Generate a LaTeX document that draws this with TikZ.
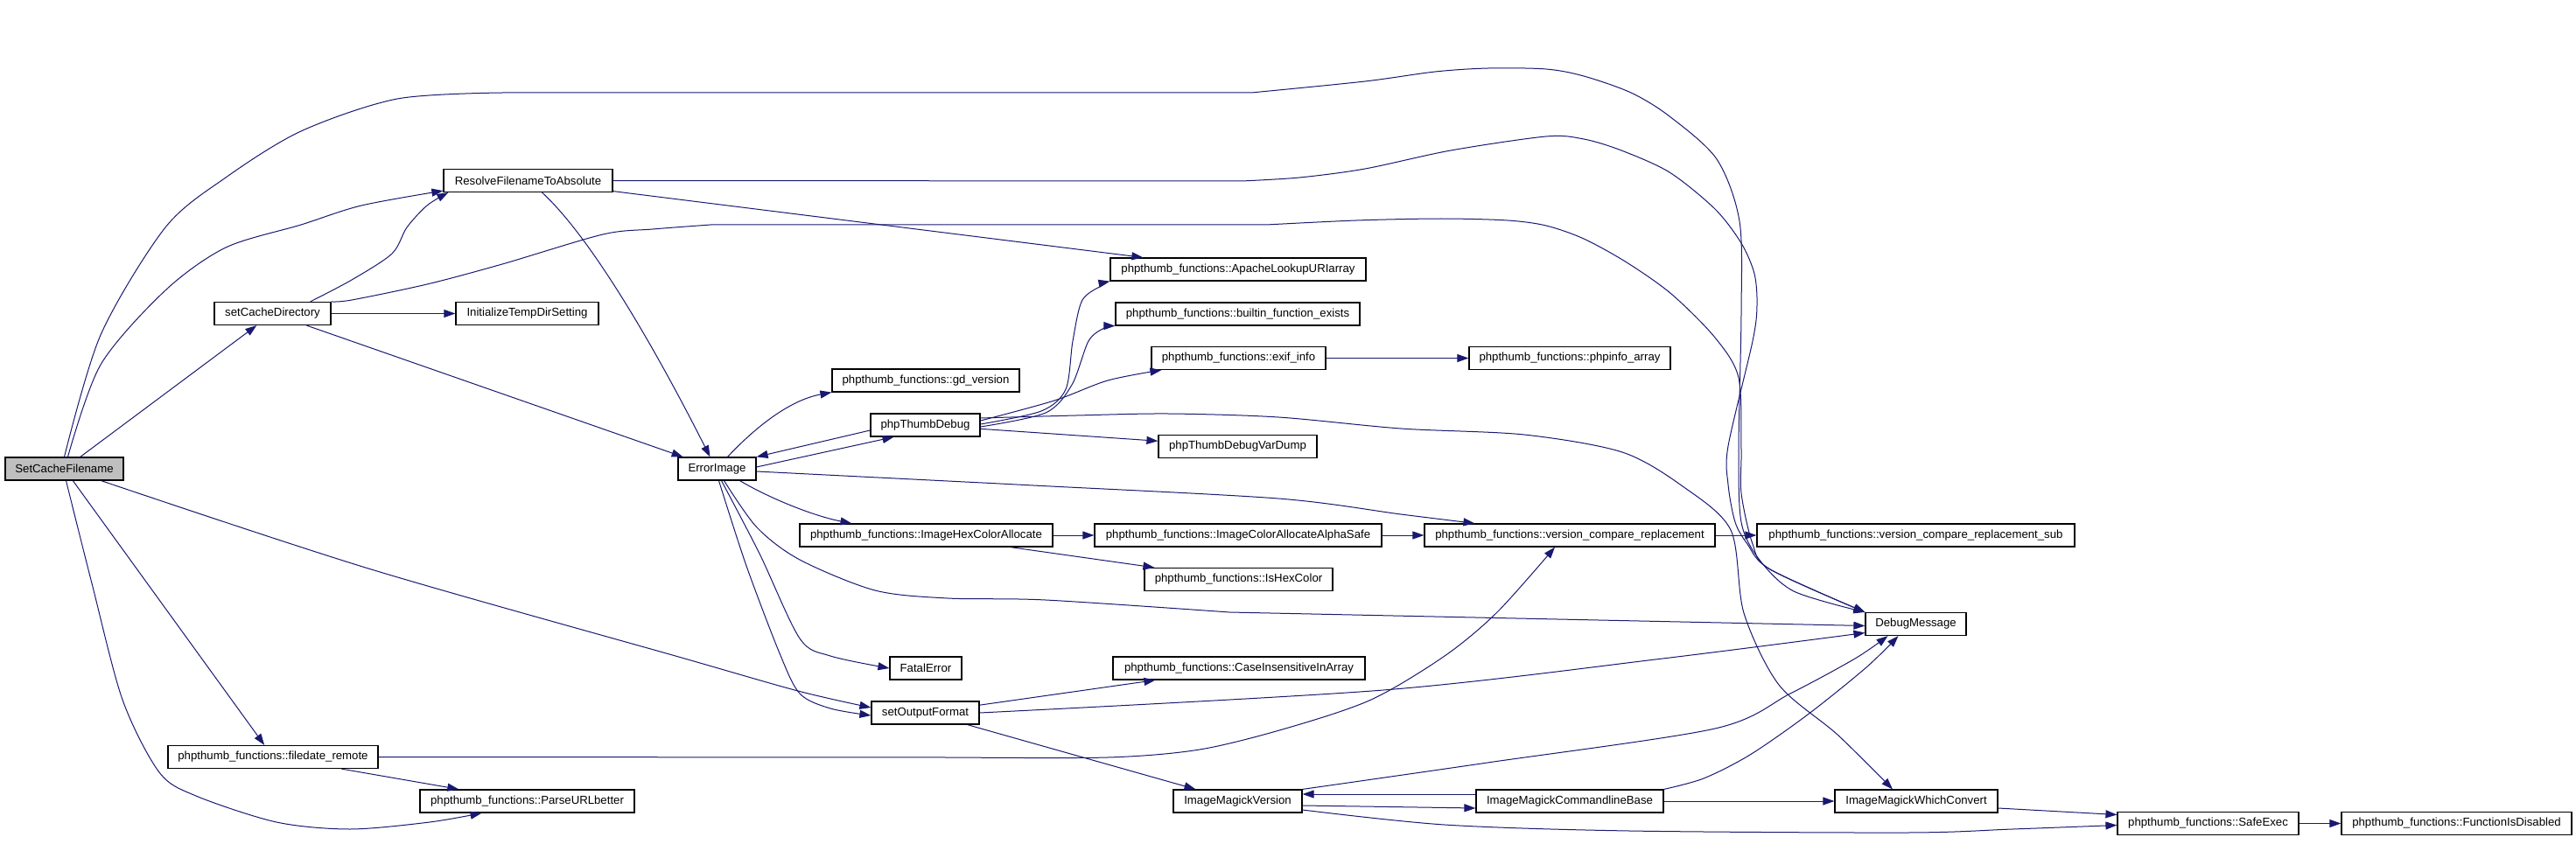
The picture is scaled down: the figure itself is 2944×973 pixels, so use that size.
\documentclass[tikz,border=0pt]{standalone}
\usepackage{fontspec}
\setmainfont{Liberation Sans}
\usetikzlibrary{arrows.meta}
\definecolor{edgeblue}{HTML}{191970}
\begin{document}
\begin{tikzpicture}[x=0.5pt,y=-0.5pt,
fn/.style={draw=black,line width=0.6pt,minimum height=13pt,inner xsep=2pt,inner ysep=0pt,font=\fontsize{6.6pt}{8pt}\selectfont},
edge/.style={draw=edgeblue,line width=0.5pt,-{Triangle[length=6.5pt,width=4.5pt]}}]
\useasboundingbox(0,0)rectangle(2944,973);
\node[fn,fill=black!25,minimum width=67.5pt](scf)at(73.5,536){SetCacheFilename};
\foreach \n/\x/\y/\w/\t in {rfa/603.5/206.5/193/ResolveFilenameToAbsolute,scd/311.5/358.5/133/setCacheDirectory,
itds/602.5/358.5/163/InitializeTempDirSetting,err/819.5/536/89/ErrorImage,fdr/312/865.5/240/phpthumb\_functions::filedate\_remote,
purl/602.5/916/245/phpthumb\_functions::ParseURLbetter,gdv/1058/435/214/phpthumb\_functions::gd\_version,dbg/1057.5/486/125/phpThumbDebug,
ihca/1058.5/612/289/phpthumb\_functions::ImageHexColorAllocate,fatal/1058/764/82/FatalError,sof/1057.5/815/123/setOutputFormat,
alu/1415/308/292/phpthumb\_functions::ApacheLookupURIarray,bfe/1414.5/359/279/phpthumb\_functions::builtin\_function\_exists,
exif/1415.5/409.5/199/phpthumb\_functions::exif\_info,vdump/1414.5/510.5/181/phpThumbDebugVarDump,
icaa/1415/612/328/phpthumb\_functions::ImageColorAllocateAlphaSafe,ishex/1415.5/662.5/215/phpthumb\_functions::IsHexColor,
ciia/1416/764/288/phpthumb\_functions::CaseInsensitiveInArray,imv/1414.5/916/147/ImageMagickVersion,
pia/1794/409.5/230/phpthumb\_functions::phpinfo\_array,vcr/1794/612/332/phpthumb\_functions::version\_compare\_replacement,
imcb/1794/916/214/ImageMagickCommandlineBase,vcrs/2189.5/612/363/phpthumb\_functions::version\_compare\_replacement\_sub,
dmsg/2189.5/713.5/115/DebugMessage,imwc/2190/916/186/ImageMagickWhichConvert,sexec/2523.5/941.5/207/phpthumb\_functions::SafeExec,
fid/2807.5/941.5/263/phpthumb\_functions::FunctionIsDisabled}
\node[fn,minimum width=\w*0.5pt](\n)at(\x,\y){\t};
\foreach \a/\b in {scf/scd,scf/fdr,rfa/alu,scd/itds,scd/err,fdr/purl,dbg/vdump,ihca/icaa,ihca/ishex,icaa/vcr,vcr/vcrs,
exif/pia,sof/ciia,sof/imv,imcb/imwc,sexec/fid}
\draw[edge](\a)--(\b);
\draw[edge]plot[smooth]coordinates{([xshift=2pt]scf.north)(115,417)(189,332)(258,283)(344,257)(413,235)([yshift=1pt]rfa.south west)};
\draw[edge]plot[smooth]coordinates{(scf.north)(115,383)(189,260)(258,203)(344,150)(454,113)(574,106)}--plot[smooth]coordinates{(1430,106)
(1560,93)(1640,82)(1701,78)(1767,79)(1810,87)(1864,106)(1908,133)(1962,182)(1988,253)(1990,357)(1987,515)(1990,597)(2010,639)(2050,676)(dmsg.north west)};
\draw[edge](rfa.east)--plot[smooth]coordinates{(1419,207)(1485,203)(1560,193)(1658,172)(1767,156)(1810,159)(1853,172)(1908,197)
(1960,239)(1990,278)(2005,313)(2008,349)(2003,390)(1975,510)(1975,554)(1983,597)(1997,622)(2023,651)(dmsg.north west)};
\draw[edge]plot[smooth]coordinates{(scd.north east)(402,343)(488,325)(574,302)(689,268)(746,262)(812,257)}--plot[smooth]coordinates{(1447,257)
(1550,252)(1647,250)(1723,252)(1767,258)(1810,273)(1859,300)(1910,336)(1960,386)(1987,432)(1990,515)(1990,564)(2003,622)(2023,651)(dmsg.north west)};
\draw[edge]plot[smooth]coordinates{([xshift=-12pt]scd.north east)(402,320)(448,290)(465,260)(488,235)([xshift=3pt]rfa.south west)};
\draw[edge]([xshift=8pt]rfa.south)..controls(690,285)and(780,460)..([xshift=-4pt]err.north);
\draw[edge]([xshift=6pt]err.north)..controls(860,492)and(900,458)..(gdv.south west);
\draw[edge]([yshift=-3pt]dbg.west)--(err.north east);
\draw[edge]([yshift=1pt]err.east)--([xshift=-18pt]dbg.south);
\draw[edge]plot[smooth]coordinates{([yshift=-1.5pt]err.east)(1083,550)(1181,555)(1461,570)(1601,588)([xshift=29pt]vcr.north west)};
\draw[edge]([xshift=13pt]err.south)..controls(880,570)and(930,590)..([xshift=30pt]ihca.north west);
\draw[edge]plot[smooth]coordinates{([xshift=4pt]err.south)(865,603)(914,640)(1000,675)(1083,684)(1195,686)(1405,700)}--([yshift=-1pt]dmsg.west);
\draw[edge]plot[smooth]coordinates{([xshift=2.5pt]err.south)(868,633)(914,730)(949,750)(fatal.west)};
\draw[edge]plot[smooth]coordinates{([xshift=1pt]err.south)(853,647)(891,747)(914,793)(949,810)([yshift=-1.5pt]sof.west)};
\draw[edge]plot[smooth]coordinates{([xshift=-13pt]scf.south east)(421,650)(772,750)(912,790)([yshift=3pt]sof.west)};
\draw[edge]plot[smooth]coordinates{([xshift=1pt]scf.south)(105,667)(140,800)(182,883)(224,910)(316,940)(400,948)(491,940)([xshift=-26pt]purl.south)};
\draw[edge](fdr.east)--plot[smooth]coordinates{(1090,866)(1266,866)(1371,857)(1469,833)(1567,800)(1651,750)(1711,700)([xshift=-8.5pt]vcr.south)};
\draw[edge]plot[smooth]coordinates{([yshift=2.5pt]dbg.east)(1205,458)(1266,435)([xshift=6pt]exif.south west)};
\draw[edge]plot[smooth]coordinates{([yshift=0.5pt]dbg.east)(1190,470)(1218,445)(1226,390)(1237,343)(1262,325)(alu.south west)};
\draw[edge]plot[smooth]coordinates{([yshift=-1pt]dbg.east)(1195,472)(1225,440)(1244,390)(1262,375)(bfe.south west)};
\draw[edge]plot[smooth]coordinates{([yshift=4pt]dbg.east)(1230,475)(1335,473)(1461,477)(1601,490)(1742,497)(1854,517)(1923,556)(1978,606)
(1993,701)(2033,783)(2100,840)([xshift=-13.5pt]imwc.north)};
\draw[edge]plot[smooth]coordinates{(sof.east)(1581,789)(1900,753)([yshift=-5pt]dmsg.west)};
\draw[edge]([yshift=-2.5pt]imv.east)--([yshift=-4pt]imcb.west);
\draw[edge]([yshift=4pt]imcb.west)--([yshift=4pt]imv.east);
\draw[edge]plot[smooth]coordinates{(imv.north east)(1700,872)(1960,833)(2046,793)(2120,753)([xshift=-16pt]dmsg.south)};
\draw[edge]plot[smooth]coordinates{(imcb.north east)(1947,890)(2000,863)(2066,817)(2133,763)([xshift=-10pt]dmsg.south)};
\draw[edge]plot[smooth]coordinates{([yshift=-5pt]imv.east)(1651,943)(1862,950)(2180,952)(2300,948)([yshift=-1pt]sexec.west)};
\draw[edge]([yshift=-4pt]imwc.east)--([yshift=5pt]sexec.west);
\end{tikzpicture}
\end{document}
